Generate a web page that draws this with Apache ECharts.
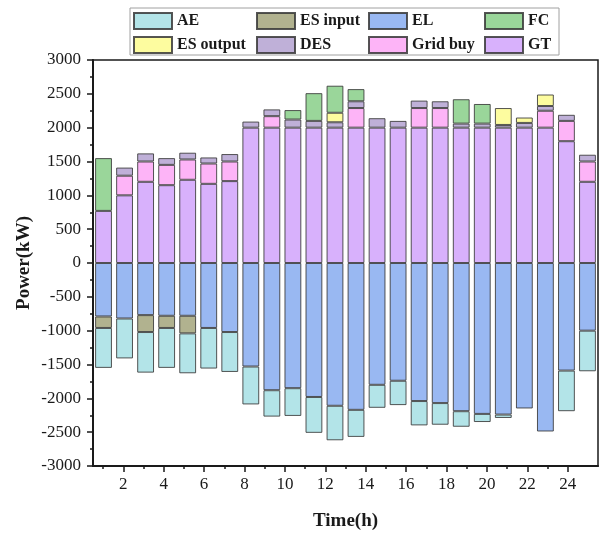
<!DOCTYPE html>
<html>
<head>
<meta charset="utf-8">
<script src="https://cdn.jsdelivr.net/npm/echarts@6/dist/echarts.min.js"></script>
<style>
  html, body { margin: 0; padding: 0; background: #fff; }
  #chart { width: 604px; height: 536px; }
</style>
</head>
<body>
<div id="chart"></div>
<script>
// Hourly power balance (kW): supply stacked above zero, demand stacked below.
const hours = [1,2,3,4,5,6,7,8,9,10,11,12,13,14,15,16,17,18,19,20,21,22,23,24];

const GT      = [770,1000,1200,1150,1230,1170,1210,2000,2000,2000,2000,2000,2000,2000,2000,2000,2000,2000,2000,2000,2000,2000,1800,1200];
const gridBuy = [0,290,300,300,300,300,290,0,170,0,0,0,290,0,0,290,290,0,0,0,0,250,300,300];
const DES     = [0,120,120,100,100,90,110,90,100,120,100,80,100,140,100,110,100,60,60,40,70,70,90,100];
const esOut   = [0,0,0,0,0,0,0,0,0,0,0,140,0,0,0,0,0,0,0,250,80,170,0,0];
const FC      = [780,0,0,0,0,0,0,0,0,140,410,400,180,0,0,0,0,360,290,0,0,0,0,0];

const EL      = [-790,-820,-770,-780,-780,-960,-1020,-1530,-1880,-1850,-1980,-2110,-2170,-1800,-1740,-2040,-2070,-2190,-2230,-2240,-2150,-2490,-1590,-1000];
const esIn    = [-170,0,-250,-180,-260,0,0,0,0,0,0,0,0,0,0,0,0,0,0,0,0,0,0,0];
const AE      = [-590,-590,-600,-590,-590,-600,-590,-560,-390,-410,-530,-510,-400,-340,-360,-360,-320,-230,-120,-50,0,0,-600,-600];

const labelTicks = [2,4,6,8,10,12,14,16,18,20,22,24];
const minorTicks = [1,3,5,7,9,11,13,15,17,19,21,23];

const serif = '"Liberation Serif", "DejaVu Serif", serif';
const ink = '#1a1a1a';

const colors = {
  'AE': '#b3e4e8',
  'ES input': '#b1b28f',
  'EL': '#99b8f2',
  'FC': '#9ad69a',
  'ES output': '#fdfc9f',
  'DES': '#bfb0d8',
  'Grid buy': '#fdb4f7',
  'GT': '#d8b1fc'
};

// zero entries are left empty so no flat bars are drawn
const gaps = arr => arr.map(v => (v === 0 ? '-' : v));

function bar(name, values) {
  return {
    name: name,
    type: 'bar',
    stack: 'power',
    xAxisIndex: 0,
    yAxisIndex: 0,
    barCategoryGap: '20%',
    data: gaps(values),
    itemStyle: {
      color: colors[name],
      borderColor: 'rgba(55,55,55,0.85)',
      borderWidth: 1
    }
  };
}

const legendText = { fontFamily: serif, fontWeight: 'bold', fontSize: 16, color: ink };
function legendCol(left, names) {
  return {
    orient: 'vertical',
    left: left,
    top: 12,
    itemWidth: 38,
    itemHeight: 16,
    itemGap: 6,
    icon: 'rect',
    padding: 0,
    textStyle: legendText,
    data: names
  };
}

const chart = echarts.init(document.getElementById('chart'), null, { renderer: 'canvas' });

chart.setOption({
  animation: false,
  backgroundColor: '#fff',
  grid: {
    left: 93, right: 6, top: 60, bottom: 68,
    show: true,
    borderColor: ink,
    borderWidth: 1.5,
    backgroundColor: 'transparent'
  },
  graphic: [{
    type: 'rect',
    shape: { x: 130, y: 8, width: 429, height: 47 },
    style: { fill: 'none', stroke: '#a0a0a0', lineWidth: 1 },
    z: 0
  }],
  legend: [
    legendCol(133, ['AE', 'ES output']),
    legendCol(256, ['ES input', 'DES']),
    legendCol(368, ['EL', 'Grid buy']),
    legendCol(484, ['FC', 'GT'])
  ],
  xAxis: [
    {
      type: 'category',
      data: hours,
      show: false,
      boundaryGap: true
    },
    {
      type: 'value',
      min: 0.5,
      max: 25.5,
      position: 'bottom',
      splitLine: { show: false },
      axisLine: { show: true, onZero: false, lineStyle: { color: ink, width: 2 } },
      axisTick: { show: true, inside: false, length: 6, customValues: labelTicks, lineStyle: { color: ink, width: 1.5 } },
      axisLabel: { show: true, customValues: labelTicks, margin: 10, fontFamily: serif, fontSize: 17, color: ink },
      name: 'Time(h)',
      nameLocation: 'middle',
      nameGap: 46,
      nameTextStyle: { fontFamily: serif, fontWeight: 'bold', fontSize: 19, color: ink }
    },
    {
      type: 'value',
      min: 0.5,
      max: 25.5,
      position: 'bottom',
      splitLine: { show: false },
      axisLine: { show: false, onZero: false },
      axisTick: { show: true, inside: false, length: 3, customValues: minorTicks, lineStyle: { color: ink, width: 1.5 } },
      axisLabel: { show: false }
    }
  ],
  yAxis: [{
    type: 'value',
    min: -3000,
    max: 3000,
    interval: 500,
    splitLine: { show: false },
    axisLine: { show: true, onZero: false, lineStyle: { color: ink, width: 2 } },
    axisTick: { show: true, inside: false, length: 6, lineStyle: { color: ink, width: 1.5 } },
    minorTick: { show: true, splitNumber: 2, length: 3, lineStyle: { color: ink, width: 1.5 } },
    axisLabel: { margin: 12, fontFamily: serif, fontSize: 17, color: ink, formatter: v => String(v) },
    name: 'Power(kW)',
    nameLocation: 'middle',
    nameGap: 59,
    nameMoveOverlap: false,
    nameRotate: 90,
    nameTextStyle: { fontFamily: serif, fontWeight: 'bold', fontSize: 19, color: ink }
  }],
  series: [
    bar('GT', GT),
    bar('Grid buy', gridBuy),
    bar('DES', DES),
    bar('ES output', esOut),
    bar('FC', FC),
    bar('EL', EL),
    bar('ES input', esIn),
    bar('AE', AE)
  ]
});
</script>
</body>
</html>
